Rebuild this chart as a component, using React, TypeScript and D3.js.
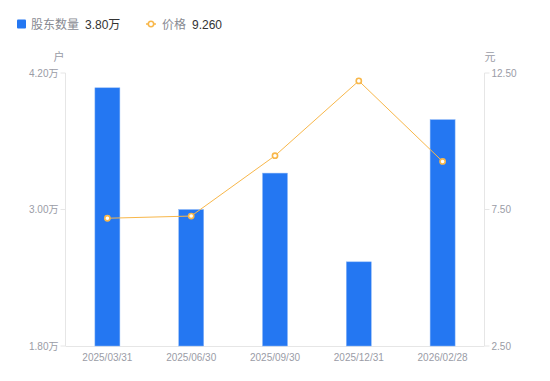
import React from "react";
import * as d3 from "d3";

const categories = ["2025/03/31", "2025/06/30", "2025/09/30", "2025/12/31", "2026/02/28"];
const holders = [4.07, 3.0, 3.32, 2.54, 3.79]; // 万户
const prices = [7.18, 7.26, 9.47, 12.21, 9.26];
const leftTicks = [1.8, 3.0, 4.2];
const rightTicks = [2.5, 7.5, 12.5];

const W = 550;
const H = 381;
const M = { left: 65.5, right: 484.5, top: 73, bottom: 346 };

export default function App() {
  const x = d3.scaleBand<string>().domain(categories).range([M.left, M.right]).padding(0);
  const yL = d3.scaleLinear().domain([1.8, 4.2]).range([M.bottom, M.top]);
  const yR = d3.scaleLinear().domain([2.5, 12.5]).range([M.bottom, M.top]);
  const barW = 25;
  const cx = (c: string) => (x(c) as number) + x.bandwidth() / 2;
  const line = d3
    .line<number>()
    .x((_, i) => cx(categories[i]))
    .y((d) => yR(d));
  const font = "'Liberation Sans', Arial, 'Noto Sans CJK SC', sans-serif";
  const axisColor = "#e6e6e6";
  const labelColor = "#9a9ca6";
  const orange = "#f8b74a";
  const blue = "#2477f2";

  return (
    <svg width={W} height={H} style={{ position: "absolute", left: 0, top: 0 }} fontFamily={font}>
      {/* legend */}
      <rect x={17} y={19.5} width={9} height={9} rx={1} fill={blue} />
      <text x={31} y={28.5} fontSize={12} fill="#888a92">股东数量</text>
      <text x={85} y={28.5} fontSize={12} fill="#333">3.80万</text>
      <line x1={146} x2={156} y1={24} y2={24} stroke={orange} strokeWidth={1.5} />
      <circle cx={151} cy={24} r={2.7} fill="#fff" stroke={orange} strokeWidth={1.6} />
      <text x={162} y={28.5} fontSize={12} fill="#888a92">价格</text>
      <text x={192} y={28.5} fontSize={12} fill="#333">9.260</text>

      {/* unit labels */}
      <text x={59} y={61} fontSize={11} fill={labelColor} textAnchor="middle">户</text>
      <text x={490} y={61} fontSize={11} fill={labelColor} textAnchor="middle">元</text>

      {/* axes lines */}
      <line x1={M.left} x2={M.left} y1={M.top} y2={M.bottom} stroke={axisColor} />
      <line x1={M.right} x2={M.right} y1={M.top} y2={M.bottom} stroke={axisColor} />
      <line x1={M.left} x2={M.right} y1={M.bottom + 0.5} y2={M.bottom + 0.5} stroke={axisColor} />

      {leftTicks.map((t) => (
        <g key={"l" + t}>
          <line x1={M.left - 5} x2={M.left} y1={yL(t)} y2={yL(t)} stroke={axisColor} />
          <text x={M.left - 7} y={yL(t) + 3.5} fontSize={10} fill={labelColor} textAnchor="end">
            {t.toFixed(2) + "万"}
          </text>
        </g>
      ))}
      {rightTicks.map((t) => (
        <g key={"r" + t}>
          <line x1={M.right} x2={M.right + 5} y1={yR(t)} y2={yR(t)} stroke={axisColor} />
          <text x={M.right + 7} y={yR(t) + 3.5} fontSize={10} fill={labelColor} textAnchor="start">
            {t.toFixed(2)}
          </text>
        </g>
      ))}

      {/* bars */}
      {holders.map((v, i) => (
        <rect
          key={"b" + i}
          x={cx(categories[i]) - barW / 2}
          y={yL(v)}
          width={barW}
          height={M.bottom - yL(v)}
          fill={blue}
          stroke="#8db8f7"
          strokeWidth={0.5}
        />
      ))}

      {/* x labels */}
      {categories.map((c) => (
        <text key={c} x={cx(c)} y={361} fontSize={10} fill={labelColor} textAnchor="middle">
          {c}
        </text>
      ))}

      {/* price line */}
      <path d={line(prices) || ""} fill="none" stroke={orange} strokeWidth={1} />
      {prices.map((p, i) => (
        <circle key={"p" + i} cx={cx(categories[i])} cy={yR(p)} r={2.6} fill="#fff" stroke={orange} strokeWidth={1.6} />
      ))}
    </svg>
  );
}
